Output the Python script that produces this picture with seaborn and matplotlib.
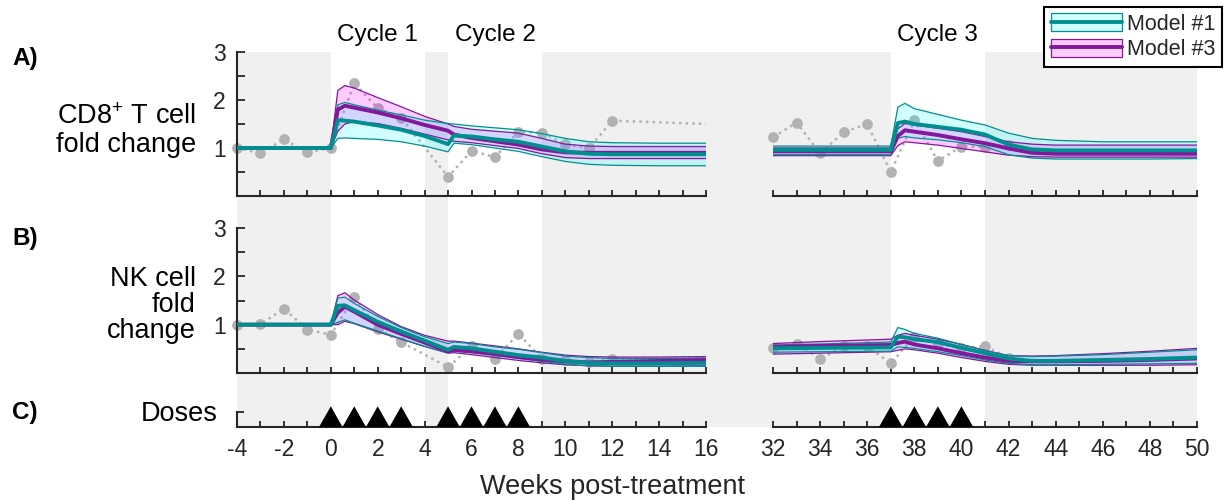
import matplotlib
matplotlib.use("Agg")
import numpy as np
import matplotlib.pyplot as plt
import seaborn as sns
from matplotlib.patches import Patch, Rectangle
from matplotlib.lines import Line2D
from matplotlib.legend_handler import HandlerTuple

# ---------------- data ----------------
# observed fold changes (gray dotted series)
obs_weeks = [-4, -3, -2, -1, 0, 1, 2, 3, 5, 6, 7, 8, 9, 10, 11, 12,
             32, 33, 34, 35, 36, 37, 38, 39, 40, 41, 42]
cd8_obs = [1.00, 0.89, 1.18, 0.91, 1.00, 2.35, 1.83, 1.63, 0.40, 0.94, 0.81, 1.34,
           1.32, 1.08, 0.99, 1.57,
           1.22, 1.53, 0.89, 1.33, 1.50, 0.50, 1.58, 0.73, 1.03, 1.03, 1.06]
nk_obs = [1.00, 1.01, 1.33, 0.90, 0.79, 1.57, 0.92, 0.64, 0.12, 0.55, 0.30, 0.81,
          0.30, 0.27, 0.23, 0.28,
          0.51, 0.61, 0.29, 0.55, 0.55, 0.20, 0.75, 0.60, 0.52, 0.55, 0.32]

# model time grid (weeks)
model_weeks = [-4, 0, 0.3, 0.6, 1, 2, 3, 4, 5.0, 5.25, 6, 7, 8, 9, 10, 11, 12, 14, 16,
               32, 34, 37.0, 37.3, 37.6, 38, 39, 40, 41, 42, 43, 44, 46, 48, 50]

# CD8+ T cells, Model #1
cd8_m1_mean = [1.0, 1.0, 1.58, 1.57, 1.55, 1.47, 1.38, 1.25, 1.08, 1.26, 1.24, 1.18, 1.13, 1.03, 0.93, 0.88, 0.87, 0.87, 0.87,
               0.96, 0.96, 0.96, 1.52, 1.55, 1.50, 1.44, 1.38, 1.28, 1.07, 0.97, 0.95, 0.95, 0.95, 0.95]
cd8_m1_lo = [1.0, 1.0, 1.20, 1.21, 1.20, 1.18, 1.13, 1.04, 0.92, 1.10, 1.07, 1.00, 0.93, 0.82, 0.72, 0.66, 0.64, 0.63, 0.63,
             0.86, 0.86, 0.86, 1.20, 1.24, 1.21, 1.17, 1.11, 1.03, 0.86, 0.79, 0.77, 0.77, 0.77, 0.78]
cd8_m1_hi = [1.0, 1.0, 1.90, 1.95, 1.90, 1.79, 1.69, 1.58, 1.51, 1.50, 1.46, 1.42, 1.38, 1.30, 1.20, 1.13, 1.11, 1.10, 1.10,
             1.04, 1.04, 1.04, 1.85, 1.93, 1.82, 1.70, 1.58, 1.48, 1.31, 1.20, 1.16, 1.13, 1.13, 1.13]
# CD8+ T cells, Model #3
cd8_m3_mean = [1.0, 1.0, 1.80, 1.88, 1.84, 1.74, 1.62, 1.48, 1.36, 1.28, 1.21, 1.14, 1.07, 0.97, 0.91, 0.90, 0.90, 0.90, 0.90,
               0.93, 0.93, 0.93, 1.25, 1.37, 1.34, 1.27, 1.18, 1.10, 0.99, 0.90, 0.88, 0.88, 0.88, 0.88]
cd8_m3_lo = [1.0, 1.0, 1.35, 1.50, 1.55, 1.51, 1.41, 1.29, 1.17, 1.14, 1.11, 1.05, 0.99, 0.88, 0.80, 0.78, 0.78, 0.78, 0.78,
             0.84, 0.84, 0.84, 1.05, 1.13, 1.11, 1.06, 0.99, 0.92, 0.85, 0.82, 0.81, 0.81, 0.81, 0.81]
cd8_m3_hi = [1.0, 1.0, 2.20, 2.30, 2.25, 2.05, 1.86, 1.66, 1.50, 1.45, 1.39, 1.35, 1.31, 1.20, 1.08, 1.04, 1.03, 1.03, 1.03,
             1.00, 1.00, 1.00, 1.40, 1.51, 1.48, 1.41, 1.34, 1.24, 1.13, 1.08, 1.06, 1.06, 1.06, 1.06]

# NK cells, Model #1
nk_m1_mean = [1.0, 1.0, 1.39, 1.40, 1.30, 1.06, 0.86, 0.67, 0.48, 0.54, 0.51, 0.44, 0.37, 0.32, 0.25, 0.21, 0.20, 0.20, 0.21,
              0.51, 0.52, 0.53, 0.75, 0.74, 0.70, 0.64, 0.52, 0.41, 0.30, 0.25, 0.25, 0.27, 0.29, 0.32]
nk_m1_lo = [1.0, 1.0, 1.05, 1.10, 1.03, 0.87, 0.71, 0.55, 0.42, 0.45, 0.42, 0.36, 0.30, 0.24, 0.18, 0.15, 0.14, 0.14, 0.14,
            0.43, 0.44, 0.45, 0.54, 0.53, 0.51, 0.44, 0.36, 0.27, 0.20, 0.17, 0.17, 0.18, 0.19, 0.20]
nk_m1_hi = [1.0, 1.0, 1.55, 1.57, 1.44, 1.17, 0.94, 0.75, 0.61, 0.64, 0.61, 0.54, 0.49, 0.42, 0.35, 0.32, 0.30, 0.30, 0.31,
            0.58, 0.60, 0.64, 0.94, 0.90, 0.82, 0.72, 0.59, 0.46, 0.36, 0.34, 0.35, 0.38, 0.43, 0.48]
# NK cells, Model #3
nk_m3_mean = [1.0, 1.0, 1.25, 1.37, 1.27, 1.00, 0.81, 0.63, 0.45, 0.48, 0.45, 0.40, 0.33, 0.28, 0.24, 0.22, 0.23, 0.25, 0.27,
              0.54, 0.56, 0.58, 0.62, 0.65, 0.59, 0.51, 0.41, 0.32, 0.25, 0.24, 0.24, 0.25, 0.27, 0.30]
nk_m3_lo = [1.0, 1.0, 1.00, 1.07, 1.02, 0.85, 0.70, 0.55, 0.41, 0.42, 0.38, 0.32, 0.26, 0.21, 0.17, 0.15, 0.14, 0.14, 0.15,
            0.39, 0.41, 0.44, 0.47, 0.50, 0.48, 0.41, 0.32, 0.24, 0.18, 0.16, 0.16, 0.16, 0.16, 0.17]
nk_m3_hi = [1.0, 1.0, 1.60, 1.66, 1.51, 1.21, 0.96, 0.78, 0.66, 0.66, 0.62, 0.56, 0.50, 0.43, 0.37, 0.34, 0.33, 0.33, 0.34,
            0.61, 0.65, 0.70, 0.78, 0.82, 0.78, 0.70, 0.59, 0.47, 0.36, 0.35, 0.36, 0.40, 0.45, 0.51]

dose_weeks = [0, 1, 2, 3, 5, 6, 7, 8, 37, 38, 39, 40]
cycles = [(0, 4, "Cycle 1"), (5, 9, "Cycle 2"), (37, 41, "Cycle 3")]
off_treatment = [(-4, 0), (4, 5), (9, 37), (41, 50)]
segments = [(-4, 16), (32, 50)]

# ---------------- style ----------------
sns.set_theme(style="white")
plt.rcParams["font.family"] = ["Liberation Sans", "DejaVu Sans"]
plt.rcParams["axes.unicode_minus"] = False
plt.rcParams["mathtext.default"] = "regular"

TEAL = "#008f8f"
PURPLE = "#84179a"
CYAN_FILL = (0.0, 1.0, 1.0)
MAG_FILL = (1.0, 0.0, 1.0)
GRAY = "#b2b2b2"
BG = "#f0f0f0"
INK = "#262626"

W, H = 1226, 501
fig = plt.figure(figsize=(W / 100, H / 100), dpi=100)


def rect(x0, x1, y0, y1):
    """pixel box (top-left origin) -> figure fraction rectangle"""
    return [x0 / W, 1 - y1 / H, (x1 - x0) / W, (y1 - y0) / H]


seg_px = [(237, 706), (773, 1197)]
rows_px = {"A": (52, 196), "B": (228, 373), "C": (412, 427)}

# shaded off-treatment background spanning all rows
for (x0, x1), (lo, hi) in zip(seg_px, segments):
    bg = fig.add_axes(rect(x0, x1, 52, 427), zorder=0)
    bg.set_xlim(lo, hi)
    bg.set_ylim(0, 1)
    bg.axis("off")
    for a, b in off_treatment:
        if b > lo and a < hi:
            bg.axvspan(max(a, lo), min(b, hi), color=BG, lw=0)
for a, b in off_treatment:
    if a <= segments[0][1] and b >= segments[1][0]:
        fig.patches.append(Rectangle((seg_px[0][1] / W, 1 - 427 / H),
                                     (seg_px[1][0] - seg_px[0][1]) / W, (427 - 52) / H,
                                     transform=fig.transFigure, color=BG, lw=0, zorder=0))


def style_axis(ax, lo, hi, first, labels):
    ax.set_facecolor("none")
    ax.set_xlim(lo, hi)
    for s in ("top", "right"):
        ax.spines[s].set_visible(False)
    ax.spines["bottom"].set_color(INK)
    ax.spines["bottom"].set_linewidth(1.5)
    if first:
        ax.spines["left"].set_color(INK)
        ax.spines["left"].set_linewidth(1.5)
    else:
        ax.spines["left"].set_visible(False)
        ax.set_yticks([])
    major = np.arange(lo, hi + 0.1, 2)
    ax.set_xticks(major)
    ax.set_xticks(np.arange(lo, hi + 0.1, 1), minor=True)
    ax.set_xticklabels([f"{v:g}" for v in major] if labels else [])
    ax.tick_params(axis="x", which="both", bottom=True, direction="in", length=4,
                   width=1.3, color=INK, labelsize=16.5, labelcolor=INK, pad=8,
                   labelbottom=labels)
    ax.set_xlabel("")
    ax.set_ylabel("")


t = np.array(model_weeks)
panels = [
    ("A", cd8_obs, (cd8_m1_mean, cd8_m1_lo, cd8_m1_hi), (cd8_m3_mean, cd8_m3_lo, cd8_m3_hi)),
    ("B", nk_obs, (nk_m1_mean, nk_m1_lo, nk_m1_hi), (nk_m3_mean, nk_m3_lo, nk_m3_hi)),
]

axes = {}
for key, obs, m1, m3 in panels:
    y0, y1 = rows_px[key]
    for i, ((x0, x1), (lo, hi)) in enumerate(zip(seg_px, segments)):
        ax = fig.add_axes(rect(x0, x1, y0, y1), zorder=2)
        axes[(key, i)] = ax
        # observed data: dotted line clipped to the segment, full markers
        sns.lineplot(x=obs_weeks, y=obs, ax=ax, color=GRAY, linestyle=":", lw=1.8,
                     sort=False, zorder=2)
        ow = np.array(obs_weeks)
        inside = (ow >= lo) & (ow <= hi)
        sns.scatterplot(x=ow[inside], y=np.array(obs)[inside], ax=ax, color=GRAY,
                        s=60, linewidth=0, zorder=2.1, clip_on=False)
        # model bands
        ax.fill_between(t, m3[1], m3[2], color=MAG_FILL, alpha=0.2, lw=0, zorder=3)
        ax.fill_between(t, m1[1], m1[2], color=CYAN_FILL, alpha=0.18, lw=0, zorder=3.1)
        for arr in (m3[1], m3[2]):
            sns.lineplot(x=t, y=arr, ax=ax, color=PURPLE, lw=0.9, zorder=4)
        for arr in (m1[1], m1[2]):
            sns.lineplot(x=t, y=arr, ax=ax, color=TEAL, lw=0.9, zorder=4.1)
        sns.lineplot(x=t, y=m3[0], ax=ax, color=PURPLE, lw=2.8, zorder=5)
        sns.lineplot(x=t, y=m1[0], ax=ax, color=TEAL, lw=2.8, zorder=5.1)
        ax.set_ylim(0, 3)
        style_axis(ax, lo, hi, i == 0, False)
        if i == 0:
            ax.set_yticks(np.arange(0.5, 3.01, 0.5))
            ax.set_yticklabels(["", "1", "", "2", "", "3"])
            ax.tick_params(axis="y", left=True, direction="in", length=5.5, width=1.3,
                           color=INK, labelsize=16.5, labelcolor=INK, pad=8)

# dose row
y0, y1 = rows_px["C"]
for i, ((x0, x1), (lo, hi)) in enumerate(zip(seg_px, segments)):
    ax = fig.add_axes(rect(x0, x1, y0, y1), zorder=2)
    ax.set_ylim(0, 1)
    for w in dose_weeks:
        if lo <= w <= hi:
            ax.fill([w - 0.5, w, w + 0.5], [0, 1.38, 0], color="black", lw=0,
                    clip_on=False, zorder=4)
    style_axis(ax, lo, hi, i == 0, True)
    if i == 0:
        ax.set_yticks([1])
        ax.set_yticklabels([])
        ax.tick_params(axis="y", left=True, direction="in", length=5, width=1.3, color=INK)

# cycle titles
axA = axes[("A", 0)]
axA3 = axes[("A", 1)]
for a, b, name in cycles:
    target = axA if b <= segments[0][1] else axA3
    target.text((a + b) / 2, 1.118, name, transform=target.get_xaxis_transform(),
                ha="center", va="center", fontsize=17.5, color="black")

# row labels
fig.text(196 / W, 1 - 131 / H, "CD8$^{+}$ T cell\nfold change", ha="right", va="center",
         multialignment="right", fontsize=19.5, linespacing=1.05, color="black")
fig.text(196 / W, 1 - 305 / H, "NK cell\nfold\nchange", ha="right", va="center",
         multialignment="right", fontsize=19.5, linespacing=1.0, color="black")
fig.text(218 / W, 1 - 414 / H, "Doses", ha="right", va="center", fontsize=19.5, color="black")
for lab, py in (("A)", 58), ("B)", 238), ("C)", 413)):
    fig.text(12 / W, 1 - py / H, lab, ha="left", va="center", fontsize=17.5,
             fontweight="bold", color="black")

fig.text(0.5, 1 - 487 / H, "Weeks post-treatment", ha="center", va="center",
         fontsize=19.5, color=INK)

# legend: band fill + band edges + mean line overlaid in one handle
h1 = (Patch(facecolor=CYAN_FILL, alpha=0.18, edgecolor="none"),
      Patch(facecolor="none", edgecolor=TEAL, lw=0.9),
      Line2D([], [], color=TEAL, lw=2.8))
h3 = (Patch(facecolor=MAG_FILL, alpha=0.2, edgecolor="none"),
      Patch(facecolor="none", edgecolor=PURPLE, lw=0.9),
      Line2D([], [], color=PURPLE, lw=2.8))
leg = fig.legend([h1, h3], ["Model #1", "Model #3"],
                 handler_map={tuple: HandlerTuple(ndivide=1, pad=0)},
                 loc="upper right", bbox_to_anchor=(1222 / W, 1 - 7 / H),
                 bbox_transform=fig.transFigure, borderaxespad=0,
                 fontsize=15.5, handlelength=3.3, handleheight=0.9,
                 handletextpad=0.25, labelspacing=0.2, borderpad=0.3,
                 frameon=True, fancybox=False, framealpha=1, edgecolor="black")
leg.get_frame().set_linewidth(1.5)
leg.set_zorder(10)

fig.savefig("out.png", dpi=100)
